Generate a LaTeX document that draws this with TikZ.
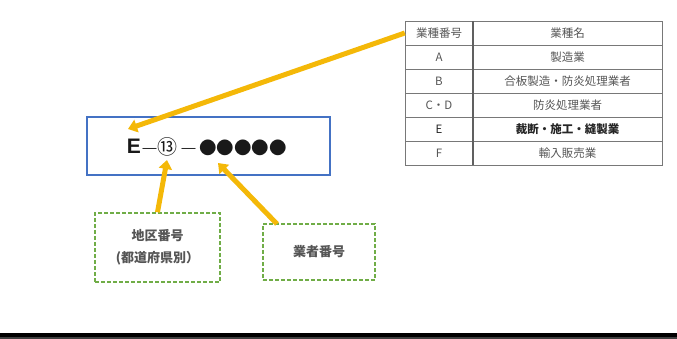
\documentclass[tikz,border=0pt]{standalone}
\usepackage{fontspec}
\newfontfamily\jp{Noto Sans CJK JP}
\newfontfamily\lat{Liberation Sans}
\usetikzlibrary{arrows.meta}
\definecolor{arrowgold}{RGB}{244,184,8}
\definecolor{boxblue}{RGB}{68,114,196}
\definecolor{dashgreen}{RGB}{112,173,71}
\definecolor{gridgray}{RGB}{120,120,120}
\definecolor{txtgray}{RGB}{85,85,85}
\tikzset{
  pointer/.style={draw=arrowgold, line width=5pt,
    -{Triangle[length=9pt,width=13pt]}},
  codepart/.style={inner sep=0pt, anchor=base, text=black!90},
  notebox/.style={draw=dashgreen, line width=1.5pt, dash pattern=on 4pt off 2pt},
  notetext/.style={text=txtgray, font=\jp\bfseries\fontsize{13}{22}\selectfont, align=center},
  cell/.style={inner sep=0pt, minimum height=24pt, text=txtgray,
    font=\jp\fontsize{11.5}{13}\selectfont},
  keycell/.style={cell, minimum width=68pt},
  namecell/.style={cell, minimum width=189pt},
}
\begin{document}
\begin{tikzpicture}[x=1pt,y=-1pt]
\useasboundingbox (0,0) rectangle (677,339);

% licence number layout
\node[draw=boxblue, line width=2pt, minimum width=243pt, minimum height=58pt] (code) at (208.5,146) {};
\node[codepart, font=\lat\bfseries\fontsize{21}{24}\selectfont] (letter) at (134,154) {E};
\node[codepart, font=\lat\fontsize{14}{16}\selectfont] (dashA) at (149.5,153) {—};
\node[codepart, font=\jp\fontsize{20}{22}\selectfont] (area) at (167.5,155) {⑬};
\node[codepart, font=\lat\fontsize{14}{16}\selectfont] (dashB) at (188.5,153) {—};
\node[codepart, font=\jp\fontsize{17.5}{20}\selectfont] (serial) at (243,154.5) {●●●●●};

% explanatory boxes
\node[notebox, minimum width=125pt, minimum height=69pt] (areabox) at (157.5,247.5) {};
\node[notetext] at (areabox) {地区番号\\(都道府県別）};
\node[notebox, minimum width=112pt, minimum height=56pt] (firmbox) at (319,252) {};
\node[notetext] at (firmbox) {業者番号};

% industry table
\foreach \r/\k/\n in {0/業種番号/業種名, 1/A/製造業, 2/B/合板製造・防炎処理業者,
                      3/C・D/防炎処理業者, 5/F/輸入販売業} {
  \node[keycell] (k\r) at (439,{33+24*\r}) {\k};
  \node[namecell] (n\r) at (567.5,{33+24*\r}) {\n};
}
\node[keycell, text=black!85] (k4) at (439,129) {E};
\node[namecell, text=black!85, font=\jp\bfseries\fontsize{11.5}{13}\selectfont] (n4) at (567.5,129) {裁断・施工・縫製業};
\draw[gridgray, line width=0.8pt] (405,21) rectangle (662,165);
\foreach \y in {45,69,93,117,141}
  \draw[gridgray, line width=0.8pt] (405,\y) -- (662,\y);
\draw[gridgray!80!black, line width=1.6pt] (473,21) -- (473,165);

% pointers
\coordinate (letterTip) at (128,129);
\coordinate (serialTip) at (218,163);
\coordinate (areaTip) at (167,160);
\coordinate (firmStart) at (277,224);
\draw[pointer] (k0.west) -- (letterTip);
\draw[pointer] (areabox.north) -- (areaTip);
\draw[pointer] (firmStart) -- (serialTip);

% rule along the bottom
\fill[black] (0,333) rectangle (677,337);
\fill[black!75] (0,337) rectangle (677,339);
\end{tikzpicture}
\end{document}
